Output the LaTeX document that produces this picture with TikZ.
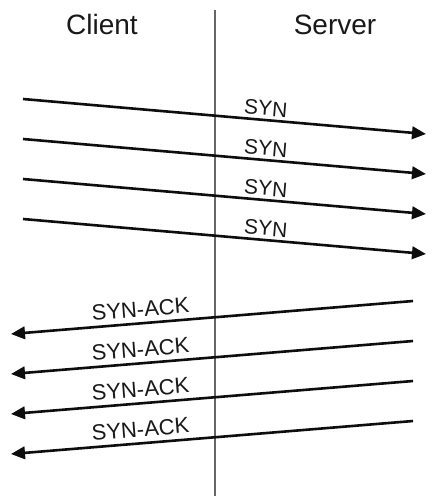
\documentclass[tikz,border=0pt]{standalone}
\usepackage{fontspec}
\setmainfont{Liberation Sans}
\usetikzlibrary{arrows.meta}
\begin{document}
\begin{tikzpicture}[x=1pt,y=-1pt,
  msg/.style={line width=2.6pt, draw=black!95},
  lbl/.style={font=\fontsize{21}{24}\selectfont, text=black!90, inner sep=3pt, sloped, above},
  head/.style={font=\fontsize{28}{32}\selectfont, text=black!90, anchor=base, inner sep=0pt},
  life/.style={line width=1.8pt, draw=black!60}]
\useasboundingbox (0,0) rectangle (432,496);
\fill[white] (0,0) rectangle (432,496);
% headers
\node[head] (client) at (102,34) {Client};
\node[head] (server) at (335,34) {Server};
% lifeline
\coordinate (ltop) at (215,10);
\coordinate (lbot) at (215,496);
\draw[life] (ltop) -- (lbot);
% SYN messages
\foreach \i in {0,1,2,3}{
  \coordinate (c\i) at (23,{99+40*\i});
  \coordinate (s\i) at (426,{134+40*\i});
  \draw[msg,-{Triangle[length=14pt,width=12.5pt]}] (c\i) -- (s\i) node[lbl,pos=0.6] {SYN};
}
% SYN-ACK messages
\foreach \i in {0,1,2,3}{
  \coordinate (ca\i) at (11,{334+40*\i});
  \coordinate (sa\i) at (413,{301+40*\i});
  \draw[msg,{Triangle[length=14pt,width=12.5pt]}-] (ca\i) -- (sa\i) node[lbl,pos=0.325,inner sep=5pt,font=\fontsize{22}{25}\selectfont] {SYN-ACK};
}
\end{tikzpicture}
\end{document}
